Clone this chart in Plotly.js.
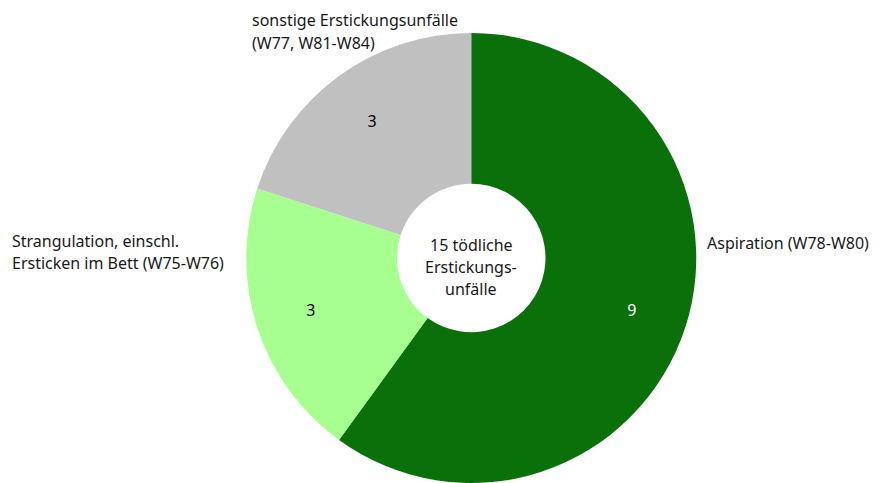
<!DOCTYPE html>
<html><head><meta charset="utf-8">
<script src="https://cdn.plot.ly/plotly-3.0.1.min.js"></script>
<style>html,body{margin:0;padding:0;background:#fff}</style>
</head><body><div id="chart" style="width:879px;height:483px"></div>
<script>
const categories = ["Aspiration (W78-W80)", "Strangulation, einschl.<br>Ersticken im Bett (W75-W76)", "sonstige Erstickungsunfälle<br>(W77, W81-W84)"];
const values = [9, 3, 3];
const colors = ["#0a700a", "#a6ff8e", "#c0c0c0"];
const textColors = ["#ffffff", "#000000", "#000000"];
const centerText = "15 tödliche<br>Erstickungs-<br>unfälle";
const FONT = "Noto Sans, sans-serif";

const dom = {x: [245.5/879, 697/879], y: [0, 450/483]};
const ring = {
  type: "pie", values: values, labels: categories,
  marker: {colors: colors, line: {width: 0}},
  hole: 0.33, sort: false, direction: "clockwise", rotation: 0,
  textinfo: "none", hoverinfo: "label+value", showlegend: false, domain: dom
};
const textRing = {
  type: "pie", values: values, labels: categories,
  marker: {colors: ["rgba(0,0,0,0)", "rgba(0,0,0,0)", "rgba(0,0,0,0)"], line: {width: 0}},
  hole: 0.5, sort: false, direction: "clockwise", rotation: 0,
  textinfo: "value", textposition: "inside", insidetextorientation: "horizontal",
  textfont: {family: FONT, size: 16, color: textColors},
  hoverinfo: "skip", showlegend: false, domain: dom
};

function lines(text, x, y0, dy, anchor) {
  return text.split("<br>").map((t, i) => ({
    text: t, x: x/879, y: 1 - (y0 + i*dy)/483, xref: "paper", yref: "paper",
    xanchor: anchor, yanchor: "middle", showarrow: false,
    font: {family: FONT, size: 16, color: "#1a1a1a"}
  }));
}

const layout = {
  width: 879, height: 483,
  margin: {l: 0, r: 0, t: 0, b: 0},
  paper_bgcolor: "#fff",
  font: {family: FONT, size: 16, color: "#1a1a1a"},
  annotations: [].concat(
    lines(centerText, 471, 245, 22, "center"),
    lines(categories[0], 705, 243, 22, "left"),
    lines(categories[1], 10, 241, 22, "left"),
    lines(categories[2], 250, 20, 23, "left")
  )
};
Plotly.newPlot("chart", [ring, textRing], layout, {displayModeBar: false, staticPlot: true});
</script></body></html>
